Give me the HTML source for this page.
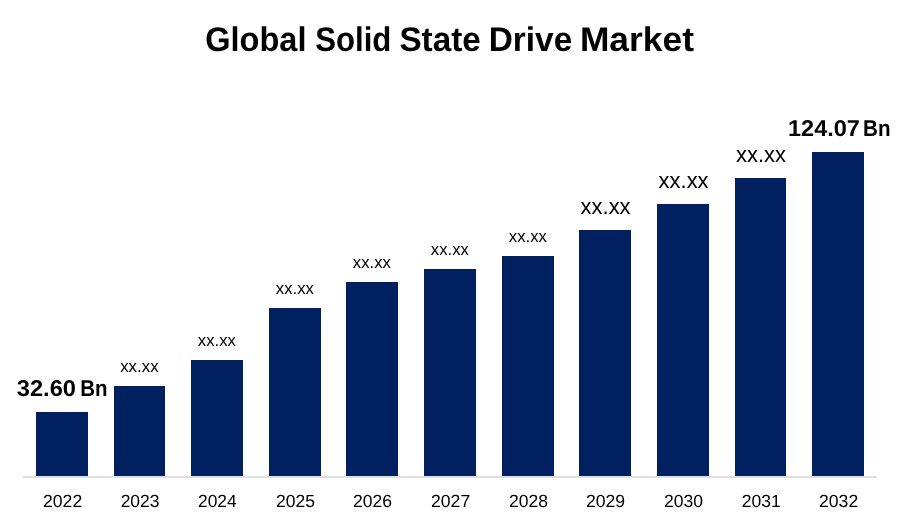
<!DOCTYPE html>
<html><head><meta charset="utf-8"><title>Global Solid State Drive Market</title>
<style>
html,body{margin:0;padding:0;background:#fff;}
body{width:900px;height:525px;overflow:hidden;font-family:"Liberation Sans",sans-serif;}
svg{display:block;will-change:transform;}
text{font-family:"Liberation Sans",sans-serif;fill:#000;text-rendering:geometricPrecision;}
.t,.b{font-weight:bold;}
</style></head><body>
<svg width="900" height="525" viewBox="0 0 900 525">
<rect width="900" height="525" fill="#fff"/>
<rect x="23" y="476" width="853.8" height="2" fill="#dedede"/>
<rect x="36" y="412" width="52" height="64" fill="#002060"/>
<rect x="114" y="386" width="51" height="90" fill="#002060"/>
<rect x="191" y="360" width="52" height="116" fill="#002060"/>
<rect x="269" y="308" width="52" height="168" fill="#002060"/>
<rect x="346" y="282" width="52" height="194" fill="#002060"/>
<rect x="424" y="269" width="52" height="207" fill="#002060"/>
<rect x="502" y="256" width="52" height="220" fill="#002060"/>
<rect x="579" y="230" width="52" height="246" fill="#002060"/>
<rect x="657" y="204" width="52" height="272" fill="#002060"/>
<rect x="735" y="178" width="51" height="298" fill="#002060"/>
<rect x="812" y="152" width="52" height="324" fill="#002060"/>
<text class="t" font-size="34.20" x="205.28" y="51.40" textLength="101.19" lengthAdjust="spacingAndGlyphs">Global</text>
<text class="t" font-size="34.20" x="315.19" y="51.40" textLength="76.16" lengthAdjust="spacingAndGlyphs">Solid</text>
<text class="t" font-size="34.20" x="399.42" y="51.40" textLength="81.42" lengthAdjust="spacingAndGlyphs">State</text>
<text class="t" font-size="34.20" x="488.63" y="51.40" textLength="83.60" lengthAdjust="spacingAndGlyphs">Drive</text>
<text class="t" font-size="34.20" x="579.91" y="51.40" textLength="114.03" lengthAdjust="spacingAndGlyphs">Market</text>
<text class="b" font-size="22.90" x="16.83" y="395.90" textLength="59.12" lengthAdjust="spacingAndGlyphs">32.60</text>
<text class="b" font-size="22.90" x="80.26" y="395.90" textLength="27.28" lengthAdjust="spacingAndGlyphs">Bn</text>
<text class="b" font-size="22.90" x="788.06" y="135.80" textLength="71.87" lengthAdjust="spacingAndGlyphs">124.07</text>
<text class="b" font-size="22.90" x="863.08" y="135.80" textLength="27.44" lengthAdjust="spacingAndGlyphs">Bn</text>
<text class="s" font-size="17.20" x="120.16" y="372.00" textLength="38.41" lengthAdjust="spacingAndGlyphs">xx.xx</text>
<text class="s" font-size="17.20" x="197.87" y="346.00" textLength="38.00" lengthAdjust="spacingAndGlyphs">xx.xx</text>
<text class="s" font-size="17.20" x="275.87" y="294.00" textLength="38.00" lengthAdjust="spacingAndGlyphs">xx.xx</text>
<text class="s" font-size="17.20" x="352.87" y="268.00" textLength="38.00" lengthAdjust="spacingAndGlyphs">xx.xx</text>
<text class="s" font-size="17.20" x="430.87" y="255.00" textLength="38.00" lengthAdjust="spacingAndGlyphs">xx.xx</text>
<text class="s" font-size="17.20" x="508.87" y="242.00" textLength="38.00" lengthAdjust="spacingAndGlyphs">xx.xx</text>
<text class="l" font-size="22.50" x="580.62" y="214.00" textLength="49.99" lengthAdjust="spacingAndGlyphs">xx.xx</text>
<text class="l" font-size="22.50" x="658.62" y="188.00" textLength="49.99" lengthAdjust="spacingAndGlyphs">xx.xx</text>
<text class="l" font-size="22.50" x="736.03" y="162.00" textLength="50.04" lengthAdjust="spacingAndGlyphs">xx.xx</text>
<text class="y" font-size="17.60" x="43.00" y="507.00" textLength="39.17" lengthAdjust="spacingAndGlyphs">2022</text>
<text class="y" font-size="17.60" x="120.63" y="507.00" textLength="38.87" lengthAdjust="spacingAndGlyphs">2023</text>
<text class="y" font-size="17.60" x="198.00" y="507.00" textLength="38.68" lengthAdjust="spacingAndGlyphs">2024</text>
<text class="y" font-size="17.60" x="276.00" y="507.00" textLength="38.95" lengthAdjust="spacingAndGlyphs">2025</text>
<text class="y" font-size="17.60" x="353.00" y="507.00" textLength="39.00" lengthAdjust="spacingAndGlyphs">2026</text>
<text class="y" font-size="17.60" x="431.00" y="507.00" textLength="39.17" lengthAdjust="spacingAndGlyphs">2027</text>
<text class="y" font-size="17.60" x="509.00" y="507.00" textLength="38.96" lengthAdjust="spacingAndGlyphs">2028</text>
<text class="y" font-size="17.60" x="586.00" y="507.00" textLength="39.10" lengthAdjust="spacingAndGlyphs">2029</text>
<text class="y" font-size="17.60" x="664.00" y="507.00" textLength="39.03" lengthAdjust="spacingAndGlyphs">2030</text>
<text class="y" font-size="17.60" x="741.63" y="507.00" textLength="39.04" lengthAdjust="spacingAndGlyphs">2031</text>
<text class="y" font-size="17.60" x="819.00" y="507.00" textLength="39.17" lengthAdjust="spacingAndGlyphs">2032</text>
</svg>
</body></html>
